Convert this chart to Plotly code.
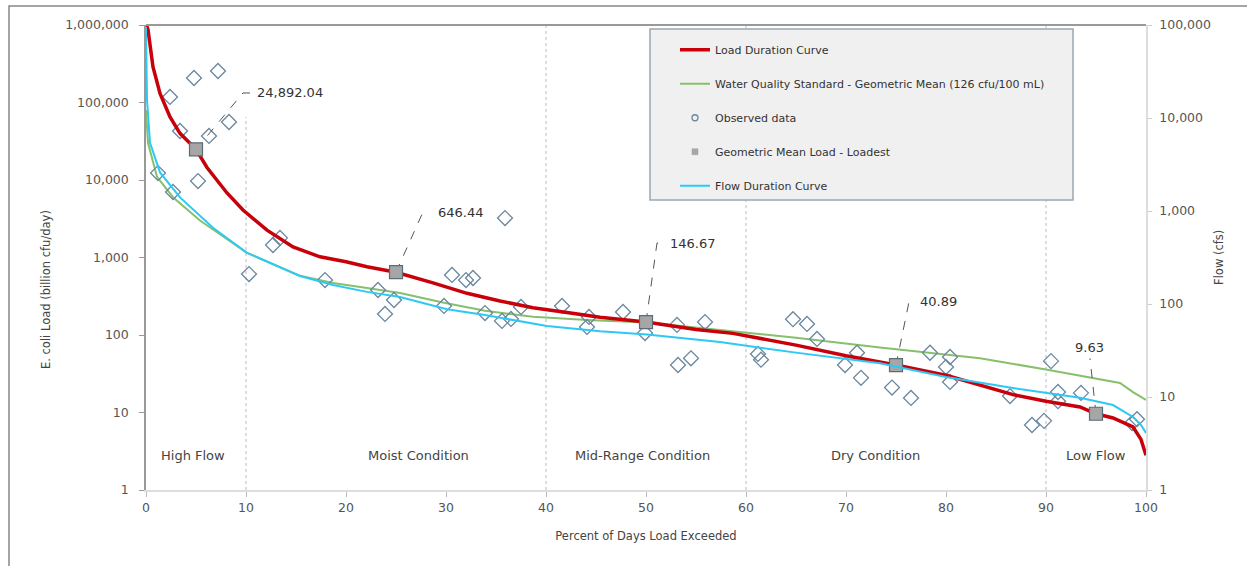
import math
import plotly.graph_objects as go

# ---------------- data ----------------
pct_load = [0.05, 0.2, 0.7, 1.4, 2.4, 3.4, 5.0, 6.1, 8.1, 9.7, 12.1, 14.7, 17.4, 20, 22.1, 25,
            28.7, 32.1, 35.4, 38.7, 42.1, 45.4, 50, 55, 58.7, 65, 70, 73.4, 75, 80.1, 86.7,
            90, 93.4, 95, 96.7, 98.7, 99.5, 100]
load_curve = [1000000, 870000, 288000, 131000, 65000, 40000, 24900, 14500, 6800, 4100, 2250, 1370,
              1020, 880, 760, 646, 470, 345, 275, 225, 195, 170, 147, 118, 105, 74, 54, 45, 41,
              30, 17, 14, 11.8, 9.63, 8.5, 6.5, 4.5, 2.8]

pct_wqs = [0.0, 0.2, 1.1, 2.7, 5.4, 8.7, 10.1, 15.4, 18.7, 22.1, 25.4, 29.8, 33.9, 38.7, 44.1,
           50.1, 57.4, 65, 73.4, 80, 83.4, 90, 94.4, 97.4, 98.7, 100]
wqs_curve = [80000, 30000, 11000, 6000, 3000, 1550, 1150, 580, 469, 404, 348, 260, 205, 172, 156,
             145, 116, 92, 69, 56, 50, 36, 28.6, 24, 18.3, 14.5]

pct_flow = [0.0, 0.1, 0.4, 1.4, 3.4, 6.7, 10.1, 15.4, 18.7, 22.1, 25.4, 30.1, 33.9, 40.1, 45.4,
            50.1, 57.4, 65, 73.4, 80, 86.7, 93.4, 96.7, 98.7, 99.5, 100]
flow_curve = [95000, 15600, 5400, 2600, 1400, 660, 355, 200, 160, 135, 119, 88, 76, 58, 51,
              47, 39, 30, 23, 16.4, 12.5, 9.8, 8.2, 6.1, 5.0, 4.1]

obs_pct = [1.2, 2.4, 2.7, 3.4, 4.8, 5.2, 6.3, 7.2, 8.3, 10.3, 12.7, 13.4, 17.9, 23.2, 23.9, 24.8,
           29.8, 30.6, 32.0, 32.7, 33.9, 35.6, 35.9, 36.5, 37.5, 41.6, 44.1, 44.3, 47.7, 49.9,
           53.1, 53.2, 54.5, 55.9, 61.2, 61.5, 64.7, 66.1, 67.1, 69.9, 71.1, 71.5, 74.6, 76.5,
           78.4, 80.0, 80.4, 80.4, 86.4, 88.6, 89.8, 90.5, 91.2, 91.2, 93.5, 98.6, 99.1]
obs_load = [12300, 118000, 7000, 42900, 207000, 9700, 37000, 255000, 56000, 612, 1450, 1790, 512,
            381, 187, 283, 237, 595, 512, 544, 192, 152, 3230, 161, 230, 237, 127, 171, 198, 106,
            135, 41, 50, 147, 57, 48, 160, 139, 89, 41, 59, 28, 21, 15.4, 59, 38.6, 52, 24.8,
            16.3, 6.9, 7.8, 46, 18.4, 14, 17.9, 7.3, 8.2]

gm_pct = [5, 25, 50, 75, 95]
gm_load = [24892.04, 646.44, 146.67, 40.89, 9.63]
gm_labels = ["24,892.04", "646.44", "146.67", "40.89", "9.63"]

regions = ["High Flow", "Moist Condition", "Mid-Range Condition", "Dry Condition", "Low Flow"]
region_centers = [4.7, 27.2, 49.6, 72.9, 95.0]
region_bounds = [10, 40, 60, 90]

left_ticks = [1, 10, 100, 1000, 10000, 100000, 1000000]
right_ticks = [1, 10, 100, 1000, 10000, 100000]

# ---------------- style ----------------
FONT = "DejaVu Sans"
RED = "#c8000a"
GREEN = "#86c06c"
CYAN = "#2ec8f5"
DIAM = "#6b879e"
SQF = "#a6a6a6"
SQE = "#5c6b78"

fig = go.Figure()

# flow duration curve (right axis)
fig.add_trace(go.Scatter(x=pct_flow, y=flow_curve, mode="lines", yaxis="y2",
                         line=dict(color=CYAN, width=2), showlegend=False, hoverinfo="skip"))
# water quality standard
fig.add_trace(go.Scatter(x=pct_wqs, y=wqs_curve, mode="lines",
                         line=dict(color=GREEN, width=2), showlegend=False, hoverinfo="skip"))
# observed data
fig.add_trace(go.Scatter(x=obs_pct, y=obs_load, mode="markers",
                         marker=dict(symbol="diamond-open", size=11.5, color=DIAM,
                                     line=dict(width=1.3, color=DIAM)),
                         showlegend=False))
# load duration curve
fig.add_trace(go.Scatter(x=pct_load, y=load_curve, mode="lines",
                         line=dict(color=RED, width=3.5), showlegend=False, hoverinfo="skip"))

# leader lines for labels (dashed)
leaders = [
    ([5, 9.7, 10.4], [24892.04, 132700, 132700]),
    ([25, 27.7, 28.3], [646.44, 3865, 3865]),
    ([50, 51.1, 51.6], [146.67, 1538, 1538]),
    ([75, 76.3], [40.89, 267]),
    ([95, 94.4], [9.63, 50]),
]
for lx, ly in leaders:
    fig.add_trace(go.Scatter(x=lx, y=ly, mode="lines", line=dict(color="#555", width=1, dash="dash"),
                             showlegend=False, hoverinfo="skip"))

# geometric mean loads
fig.add_trace(go.Scatter(x=gm_pct, y=gm_load, mode="markers",
                         marker=dict(symbol="square", size=13, color=SQF,
                                     line=dict(width=1.2, color=SQE)),
                         showlegend=False))

# legend-only entries
fig.add_trace(go.Scatter(x=[None], y=[None], mode="lines", name="Load Duration Curve",
                         line=dict(color=RED, width=3.5), legendgroup="a", legendrank=1))
fig.add_trace(go.Scatter(x=[None], y=[None], mode="lines",
                         name="Water Quality Standard - Geometric Mean (126 cfu/100 mL)",
                         line=dict(color=GREEN, width=2), legendgroup="b", legendrank=2))
fig.add_trace(go.Scatter(x=[None], y=[None], mode="markers", name="Observed data",
                         marker=dict(symbol="circle-open", size=6, color=DIAM, line=dict(width=1.3, color=DIAM)),
                         legendgroup="c", legendrank=3))
fig.add_trace(go.Scatter(x=[None], y=[None], mode="markers", name="Geometric Mean Load - Loadest",
                         marker=dict(symbol="square", size=6, color=SQF, line=dict(width=0.5, color=SQF)),
                         legendgroup="d", legendrank=4))
fig.add_trace(go.Scatter(x=[None], y=[None], mode="lines", name="Flow Duration Curve",
                         line=dict(color=CYAN, width=2), legendgroup="e", legendrank=5))

# ---------------- annotations ----------------
annotations = []
label_pos = [(10.9, 132700, "left"), (29.0, 3865, "left"), (52.2, 1538, "left"),
             (77.2, 267, "left"), (94.3, 68, "center")]
for (lx, ly, al), txt in zip(label_pos, gm_labels):
    annotations.append(dict(x=lx, y=math.log10(ly), xref="x", yref="y", text=txt, showarrow=False,
                            xanchor=al, yanchor="middle",
                            font=dict(family=FONT, size=13, color="#333")))
for rx, rt in zip(region_centers, regions):
    annotations.append(dict(x=rx, y=0.075, xref="x", yref="paper", text=rt, showarrow=False,
                            xanchor="center", yanchor="middle",
                            font=dict(family=FONT, size=13, color="#444")))
annotations.append(dict(x=-0.109, y=0.43, xref="paper", yref="paper",
                        text="E. coli Load (billion cfu/day)", textangle=-90, showarrow=False,
                        font=dict(family=FONT, size=11.5, color="#444")))
annotations.append(dict(x=1.082, y=0.499, xref="paper", yref="paper",
                        text="Flow (cfs)", textangle=-90, showarrow=False,
                        font=dict(family=FONT, size=11.5, color="#444")))

# ---------------- shapes ----------------
shapes = []
for b in region_bounds:
    y1 = 0.802 if b == 10 else 1.0
    shapes.append(dict(type="line", xref="x", yref="paper", x0=b, x1=b, y0=0, y1=y1,
                       line=dict(color="#bbb", width=1, dash="dot"), layer="below"))
# top frame line
shapes.append(dict(type="line", xref="paper", yref="paper", x0=0, x1=1, y0=1, y1=1,
                   line=dict(color="#999", width=2)))
# outer border
shapes.append(dict(type="rect", xref="paper", yref="paper", x0=-0.137, x1=1.2, y0=-0.3, y1=1.0409,
                   line=dict(color="#888", width=1.5), fillcolor="rgba(0,0,0,0)"))
# legend box
shapes.append(dict(type="rect", xref="paper", yref="paper", x0=0.504, x1=0.927, y0=0.6237, y1=0.9914,
                   line=dict(color="#9aa5b0", width=1.5), fillcolor="#f0f0f0", layer="above"))

fig.update_layout(
    width=1247, height=566,
    margin=dict(l=146, r=101, t=25, b=76),
    paper_bgcolor="white", plot_bgcolor="white",
    font=dict(family=FONT, size=12, color="#555"),
    showlegend=True,
    legend=dict(x=0.529, y=0.978, xanchor="left", yanchor="top",
                bgcolor="rgba(0,0,0,0)", borderwidth=0,
                font=dict(family=FONT, size=11, color="#333"),
                traceorder="grouped", tracegroupgap=15),
    xaxis=dict(range=[0, 100], dtick=10, showgrid=False, zeroline=False,
               showline=True, linecolor="#ddd", linewidth=1.5,
               ticks="outside", ticklen=5, tickcolor="#bbb",
               tickfont=dict(family=FONT, size=12.5, color="#555"),
               title=dict(text="Percent of Days Load Exceeded", standoff=18,
                          font=dict(family=FONT, size=11.5, color="#444"))),
    yaxis=dict(type="log", range=[0, 6], showgrid=False, zeroline=False,
               showline=True, linecolor="#999", linewidth=1.5,
               ticks="outside", ticklen=5, tickcolor="#999",
               tickvals=left_ticks, ticktext=[f"{v:,}" for v in left_ticks],
               ticklabelstandoff=8,
               tickfont=dict(family=FONT, size=12.5, color="#555")),
    yaxis2=dict(type="log", range=[0, 5], overlaying="y", side="right", showgrid=False,
                zeroline=False, showline=True, linecolor="#ddd", linewidth=1.5,
                ticks="outside", ticklen=4, tickcolor="#ccc", ticklabelstandoff=5,
                tickvals=right_ticks, ticktext=[f"{v:,}" for v in right_ticks],
                tickfont=dict(family=FONT, size=12.5, color="#555")),
    annotations=annotations,
    shapes=shapes,
)

fig.write_html("out.html", config={"displayModeBar": False},
               post_script="document.body.style.margin='0';")
